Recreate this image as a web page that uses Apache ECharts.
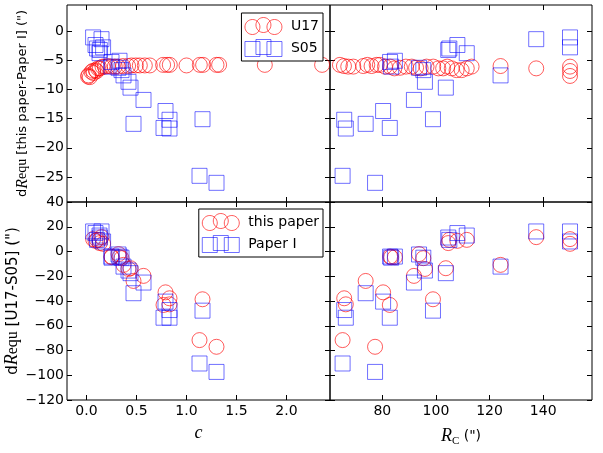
<!DOCTYPE html>
<html><head><meta charset="utf-8">
<script src="https://cdn.jsdelivr.net/npm/echarts@6/dist/echarts.min.js"></script>
<style>html,body{margin:0;padding:0;background:#fff}#c{width:603px;height:453px}</style>
</head><body><div id="c"></div>
<script>
// ---- data ----
// objects present in both catalogues (used for S05 squares and bottom panels)
const objC      = [1.13, 1.30, 1.16, 0.83, 0.83, 0.77, 0.79, 0.47, 0.57, 0.42, 0.44, 0.37, 0.32, 0.35, 0.25, 0.25, 0.33, 0.133, 0.106, 0.09, 0.13, 0.15, 0.066, 0.166];
const objRc     = [65.2, 77.3, 98.9, 65.8, 66.4, 82.8, 80.3, 73.8, 91.8, 95.9, 103.7, 124.1, 93.7, 95.3, 82.9, 83.3, 84.7, 104.6, 105.0, 108.0, 111.5, 137.4, 150.0, 150.0];
const s05Diff   = [-24.8, -26.0, -15.1, -15.2, -16.7, -16.6, -13.7, -15.9, -11.8, -8.7, -9.7, -7.6, -6.3, -6.7, -5.3, -6.1, -5.1, -3.25, -3.0, -2.4, -3.8, -1.4, -1.1, -2.8];
const thisPaperDiff = [-71.6, -77.0, -38.6, -37.8, -42.7, -43.2, -33.0, -23.8, -19.7, -14.1, -13.5, -10.8, -2.1, -5.4, -4.1, -4.6, -4.6, 6.8, 9.4, 8.6, 9.4, 11.6, 10.0, 6.2];
const paperIDiff    = [-90.5, -97.3, -47.8, -47.3, -53.5, -53.5, -40.5, -33.7, -25.1, -15.4, -17.5, -12.2, -2.4, -5.0, -4.1, -5.0, -4.1, 11.3, 9.4, 14.9, 12.9, 16.2, 16.2, 8.1];
// U17 differences (this paper - Paper I)
const u17C      = [0.016, 0.02, 0.033, 0.05, 0.066, 0.07, 0.093, 0.10, 0.116, 0.133, 0.16, 0.183, 0.216, 0.25, 0.283, 0.316, 0.366, 0.416, 0.45, 0.493, 0.533, 0.583, 0.633, 0.766, 0.806, 0.833, 1.0, 1.133, 1.166, 1.30, 1.326, 1.783, 2.356];
const u17CVal   = [-7.8, -7.6, -7.9, -7.0, -6.8, -7.2, -6.7, -6.9, -6.4, -6.4, -6.1, -6.1, -6.0, -6.1, -6.1, -6.1, -6.0, -6.0, -5.9, -5.9, -5.9, -5.9, -5.9, -5.8, -5.8, -5.8, -5.9, -5.8, -5.8, -5.8, -5.8, -5.8, -5.8];
const u17Rc     = [64.2, 65.7, 67.3, 69.2, 72.9, 74.4, 76.0, 77.9, 79.1, 81.0, 82.9, 84.5, 86.6, 88.8, 91.0, 92.6, 94.3, 96.5, 99.0, 100.9, 102.7, 104.2, 105.9, 107.7, 109.6, 111.5, 113.3, 124.1, 137.4, 150.0, 150.0, 150.0];
const u17RcVal  = [-5.8, -6.0, -6.1, -6.1, -6.0, -5.8, -6.0, -5.8, -5.8, -6.1, -6.1, -6.4, -6.3, -6.1, -6.1, -6.3, -6.4, -6.1, -6.1, -6.4, -6.4, -6.1, -6.4, -6.7, -6.7, -6.4, -6.1, -6.0, -6.4, -6.1, -6.85, -7.7];
// ticks
const cTicks  = [0, 0.5, 1.0, 1.5, 2.0];
const rcTicks = [80, 100, 120, 140];
const topTicks = [-25, -20, -15, -10, -5, 0];
const botTicks = [-120, -100, -80, -60, -40, -20, 0, 20, 40];

const pairs = (xs, ys) => xs.map((x, i) => [x, ys[i]]);

// ---- styling ----
const FONT = 'DejaVu Sans';
const RED = 'rgba(255,0,0,0.8)';
const BLUE = 'rgba(0,0,255,0.7)';
const minus = v => (v < 0 ? '\u2212' : '') + Math.abs(v);

function circlePath(cx, cy, r) {
  const k = 0.5523 * r;
  return `M${cx + r},${cy}C${cx + r},${cy + k} ${cx + k},${cy + r} ${cx},${cy + r}C${cx - k},${cy + r} ${cx - r},${cy + k} ${cx - r},${cy}C${cx - r},${cy - k} ${cx - k},${cy - r} ${cx},${cy - r}C${cx + k},${cy - r} ${cx + r},${cy - k} ${cx + r},${cy}Z`;
}
const threeCircles = 'path://' + circlePath(7.5, 9.5, 7.5) + circlePath(18.5, 7.5, 7.5) + circlePath(29.5, 9.5, 7.5);
const threeSquares = 'path://M0,2L15,2L15,17L0,17Z M11,0L26,0L26,15L11,15Z M22,2L37,2L37,17L22,17Z';

const grids = [
  {left: 67, top: 5, width: 263, height: 197},
  {left: 330, top: 5, width: 262, height: 197},
  {left: 67, top: 202, width: 263, height: 198},
  {left: 330, top: 202, width: 262, height: 198}
].map(g => Object.assign({show: true, borderColor: '#000', borderWidth: 1, backgroundColor: 'transparent'}, g));

const xAxes = [], yAxes = [];
function addX(gi, min, max, ticks, showLabels, fmt, name, nameStyle, nameGap) {
  ['bottom', 'top'].forEach((pos, k) => {
    const ax = {
      gridIndex: gi, type: 'value', position: pos, min, max,
      axisLine: {show: false, onZero: false},
      splitLine: {show: false},
      axisTick: {show: true, inside: true, length: 5, customValues: ticks, lineStyle: {color: '#000', width: 1}},
      axisLabel: {show: showLabels && k === 0, customValues: ticks, formatter: fmt, color: '#000', fontSize: 14, fontFamily: FONT, margin: 4}
    };
    if (k === 0 && name) {
      ax.name = name; ax.nameLocation = 'middle'; ax.nameGap = nameGap; ax.nameTextStyle = nameStyle;
    }
    xAxes.push(ax);
  });
}
function yName(size) {
  return {color: '#000', fontSize: size, fontFamily: FONT,
    rich: {i: {fontFamily: 'Liberation Serif', fontStyle: 'italic', fontSize: size + 3, color: '#000'},
           s: {fontFamily: 'Liberation Serif', fontSize: size + 1, color: '#000'}}};
}
function addY(gi, min, max, ticks, showLabels, name, nameSize) {
  ['left', 'right'].forEach((pos, k) => {
    const ax = {
      gridIndex: gi, type: 'value', position: pos, min, max,
      axisLine: {show: false, onZero: false},
      splitLine: {show: false},
      axisTick: {show: true, inside: true, length: 5, customValues: ticks, lineStyle: {color: '#000', width: 1}},
      axisLabel: {show: showLabels && k === 0, customValues: ticks, formatter: minus, color: '#000', fontSize: 14, fontFamily: FONT, margin: 3}
    };
    if (k === 0 && name) {
      ax.name = name; ax.nameLocation = 'middle'; ax.nameRotate = 90; ax.nameGap = 33;
      ax.nameTextStyle = yName(nameSize);
    }
    yAxes.push(ax);
  });
}
const C_MIN = -0.195, C_MAX = 2.435, R_MIN = 60.5, R_MAX = 158.2;
const TOP_MIN = -29.28, TOP_MAX = 4.45, BOT_MIN = -120, BOT_MAX = 40;
const cFmt = v => v.toFixed(1);
const rFmt = v => String(v);
const cName = {fontFamily: 'Liberation Serif', fontStyle: 'italic', fontSize: 18, color: '#000'};
const rName = {fontFamily: FONT, fontSize: 14, color: '#000',
  rich: {i: {fontFamily: 'Liberation Serif', fontStyle: 'italic', fontSize: 18, color: '#000'},
         s: {fontFamily: 'Liberation Serif', fontSize: 11, color: '#000', padding: [10, 0, 0, 0], verticalAlign: 'bottom'},
         n: {fontFamily: FONT, fontSize: 14, color: '#000'}}};

addX(0, C_MIN, C_MAX, cTicks, false, cFmt);
addX(1, R_MIN, R_MAX, rcTicks, false, rFmt);
addX(2, C_MIN, C_MAX, cTicks, true, cFmt, 'c', cName, 24);
addX(3, R_MIN, R_MAX, rcTicks, true, rFmt, '{i|R}{s|C}{n| (")}', rName, 26);
addY(0, TOP_MIN, TOP_MAX, topTicks, true, 'd{i|R}{s|equ} [this paper-Paper I] (")', 13);
addY(1, TOP_MIN, TOP_MAX, topTicks, false);
addY(2, BOT_MIN, BOT_MAX, botTicks, true, 'd{i|R}{s|equ} [U17-S05] (")', 15);
addY(3, BOT_MIN, BOT_MAX, botTicks, false);

function sc(name, gi, data, symbol, color) {
  return {
    name, type: 'scatter', xAxisIndex: 2 * gi, yAxisIndex: 2 * gi, data,
    symbol, symbolSize: 15, clip: true,
    itemStyle: {color: 'transparent', borderColor: color, borderWidth: 1},
    emphasis: {disabled: true}, silent: true
  };
}
const series = [
  sc('U17', 0, pairs(u17C, u17CVal), 'circle', RED),
  sc('S05', 0, pairs(objC, s05Diff), 'rect', BLUE),
  sc('U17', 1, pairs(u17Rc, u17RcVal), 'circle', RED),
  sc('S05', 1, pairs(objRc, s05Diff), 'rect', BLUE),
  sc('this paper', 2, pairs(objC, thisPaperDiff), 'circle', RED),
  sc('Paper I', 2, pairs(objC, paperIDiff), 'rect', BLUE),
  sc('this paper', 3, pairs(objRc, thisPaperDiff), 'circle', RED),
  sc('Paper I', 3, pairs(objRc, paperIDiff), 'rect', BLUE)
];
function legend(top, n1, n2) {
  return {
    right: 280, top, orient: 'vertical', selectedMode: false,
    padding: [4, 4, 4, 3], itemGap: 4, itemWidth: 37, itemHeight: 17,
    borderColor: '#000', borderWidth: 1, backgroundColor: '#fff', borderRadius: 0,
    textStyle: {fontSize: 14, fontFamily: FONT, color: '#000', padding: [0, 0, 0, 4]},
    data: [
      {name: n1, icon: threeCircles, itemStyle: {color: 'transparent', borderColor: RED, borderWidth: 1}},
      {name: n2, icon: threeSquares, itemStyle: {color: 'transparent', borderColor: BLUE, borderWidth: 1}}
    ]
  };
}
const chart = echarts.init(document.getElementById('c'), null, {renderer: 'canvas'});
chart.setOption({
  animation: false,
  backgroundColor: '#fff',
  textStyle: {fontFamily: FONT},
  grid: grids,
  xAxis: xAxes,
  yAxis: yAxes,
  legend: [legend(13, 'U17', 'S05'), legend(209, 'this paper', 'Paper I')],
  series
});
</script>
</body></html>
